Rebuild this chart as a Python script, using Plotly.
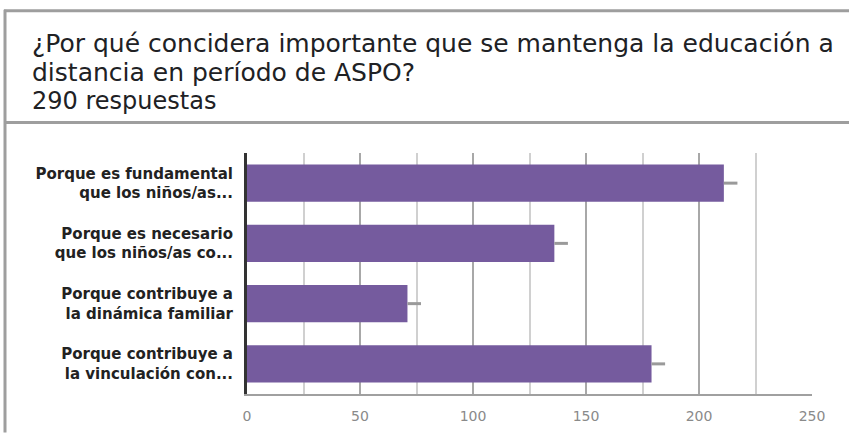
import plotly.graph_objects as go

categories = [
    "Porque es fundamental<br>que los niños/as...",
    "Porque es necesario<br>que los niños/as co...",
    "Porque contribuye a<br>la dinámica familiar",
    "Porque contribuye a<br>la vinculación con...",
]
values = [211, 136, 71, 179]
whisker = [6, 6, 6, 6]
x_ticks = [0, 50, 100, 150, 200, 250]

W, H = 849, 436
L, R, T, B = 247, 812, 153, 397

def px(x):
    return (x - L) / (R - L)

def py(y):
    return (B - y) / (B - T)

FONT = "DejaVu Sans"

fig = go.Figure()
fig.add_trace(go.Bar(
    y=categories, x=values, orientation="h",
    marker=dict(color="#755b9e", line=dict(width=0)),
    error_x=dict(type="data", symmetric=False, array=whisker, arrayminus=[0]*4,
                 color="#9a9a9a", thickness=3, width=0),
    hoverinfo="skip",
))

fig.update_layout(
    width=W, height=H,
    margin=dict(l=L, r=W - R, t=T, b=H - B),
    paper_bgcolor="white", plot_bgcolor="white",
    showlegend=False,
    bargap=0.38,
    font=dict(family=FONT, color="#222"),
)
fig.update_xaxes(
    range=[0, 250], tickvals=x_ticks, ticktext=[str(v) for v in x_ticks],
    showgrid=True, gridcolor="#a8a8a8", gridwidth=2,
    minor=dict(dtick=25, showgrid=True, gridcolor="#d0d0d0", gridwidth=1.5, ticks=""),
    zeroline=False, showline=True, linecolor="#a0a0a0", linewidth=2,
    tickfont=dict(size=14, color="#8a8a8a", family=FONT),
    ticks="", ticklabelstandoff=8, fixedrange=True,
)
fig.update_yaxes(
    categoryorder="array", categoryarray=categories, autorange="reversed",
    showgrid=False, zeroline=False, showline=True, linecolor="#333", linewidth=3,
    ticks="", ticklabelstandoff=8,
    tickfont=dict(size=15, color="#222", family=FONT, weight="bold"),
    fixedrange=True,
)

shapes = []
border = "#9e9e9e"
shapes.append(dict(type="line", xref="paper", yref="paper",
                   x0=px(4), x1=px(849), y0=py(9), y1=py(9),
                   line=dict(color=border, width=3)))
shapes.append(dict(type="line", xref="paper", yref="paper",
                   x0=px(5), x1=px(5), y0=py(8), y1=py(436),
                   line=dict(color=border, width=3)))
shapes.append(dict(type="line", xref="paper", yref="paper",
                   x0=px(4), x1=px(849), y0=py(122), y1=py(122),
                   line=dict(color=border, width=3)))
fig.update_layout(shapes=shapes)

anns = [
    ("¿Por qué concidera importante que se mantenga la educación a", 42, 25),
    ("distancia en período de ASPO?", 72, 25),
]
for text, y, s in anns:
    fig.add_annotation(text=text, xref="paper", yref="paper", x=px(30), y=py(y),
                       xanchor="left", yanchor="middle", showarrow=False,
                       font=dict(size=s, color="#202124", family=FONT))
fig.add_annotation(text="290 respuestas", xref="paper", yref="paper", x=px(30), y=py(100),
                   xanchor="left", yanchor="middle", showarrow=False,
                   font=dict(size=24, color="#202124", family=FONT))

fig.write_html("out.html")
